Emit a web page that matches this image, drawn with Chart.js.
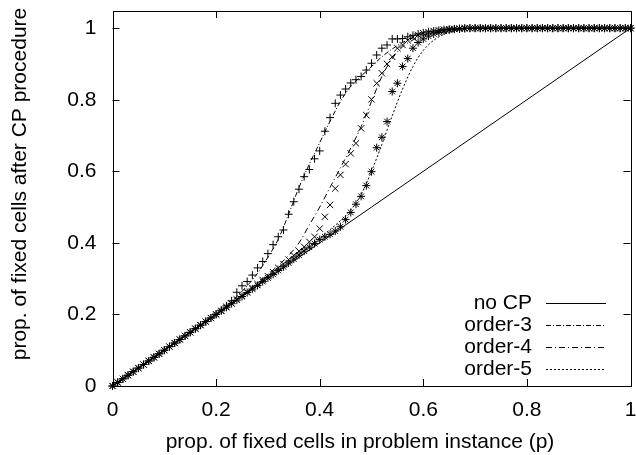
<!DOCTYPE html>
<html>
<head>
<meta charset="utf-8">
<script src="https://cdn.jsdelivr.net/npm/chart.js@4.4.1/dist/chart.umd.min.js"></script>
<style>
  html, body { margin: 0; padding: 0; background: #fff; }
  #grafica { display: block; }
</style>
</head>
<body>
<canvas id="grafica" width="636" height="455"></canvas>
<script>
//datos - puntos medidos (x cada 0.01)
var pX = [ 0, 0.01, 0.02, 0.03, 0.04, 0.05, 0.06, 0.07, 0.08, 0.09,
  0.1, 0.11, 0.12, 0.13, 0.14, 0.15, 0.16, 0.17, 0.18, 0.19,
  0.2, 0.21, 0.22, 0.23, 0.24, 0.25, 0.26, 0.27, 0.28, 0.29,
  0.3, 0.31, 0.32, 0.33, 0.34, 0.35, 0.36, 0.37, 0.38, 0.39,
  0.4, 0.41, 0.42, 0.43, 0.44, 0.45, 0.46, 0.47, 0.48, 0.49,
  0.5, 0.51, 0.52, 0.53, 0.54, 0.55, 0.56, 0.57, 0.58, 0.59,
  0.6, 0.61, 0.62, 0.63, 0.64, 0.65, 0.66, 0.67, 0.68, 0.69,
  0.7, 0.71, 0.72, 0.73, 0.74, 0.75, 0.76, 0.77, 0.78, 0.79,
  0.8, 0.81, 0.82, 0.83, 0.84, 0.85, 0.86, 0.87, 0.88, 0.89,
  0.9, 0.91, 0.92, 0.93, 0.94, 0.95, 0.96, 0.97, 0.98, 0.99, 1 ];

var ord3Pts = [ 0, 0.01, 0.02, 0.03, 0.04, 0.05, 0.06, 0.07, 0.08, 0.09,
  0.1, 0.11, 0.12, 0.13, 0.14, 0.15, 0.16, 0.17, 0.18, 0.19,
  0.201, 0.212, 0.224, 0.238, 0.262, 0.28, 0.292, 0.31, 0.33, 0.348,
  0.37, 0.395, 0.417, 0.436, 0.48, 0.515, 0.55, 0.585, 0.605, 0.635,
  0.657, 0.712, 0.75, 0.79, 0.813, 0.83, 0.847, 0.856, 0.865, 0.883,
  0.902, 0.925, 0.944, 0.953, 0.97, 0.97, 0.971, 0.976, 0.98, 0.984,
  0.987, 0.99, 0.992, 0.994, 0.996, 0.997, 0.998, 0.999, 1, 1,
  1, 1, 1, 1, 1, 1, 1, 1, 1, 1,
  1, 1, 1, 1, 1, 1, 1, 1, 1, 1,
  1, 1, 1, 1, 1, 1, 1, 1, 1, 1, 1 ];

var ord4Pts = [ 0, 0.01, 0.02, 0.03, 0.04, 0.05, 0.06, 0.07, 0.08, 0.09,
  0.1, 0.11, 0.12, 0.13, 0.14, 0.15, 0.16, 0.17, 0.18, 0.19,
  0.2, 0.21, 0.221, 0.231, 0.242, 0.252, 0.263, 0.274, 0.285, 0.296,
  0.307, 0.318, 0.33, 0.341, 0.353, 0.365, 0.377, 0.389, 0.403, 0.417,
  0.44, 0.473, 0.506, 0.552, 0.59, 0.62, 0.65, 0.678, 0.72, 0.757,
  0.801, 0.846, 0.874, 0.9, 0.92, 0.944, 0.953, 0.966, 0.975, 0.981,
  0.986, 0.989, 0.992, 0.994, 0.996, 0.997, 0.998, 0.999, 1, 1,
  1, 1, 1, 1, 1, 1, 1, 1, 1, 1,
  1, 1, 1, 1, 1, 1, 1, 1, 1, 1,
  1, 1, 1, 1, 1, 1, 1, 1, 1, 1, 1 ];

var ord5Pts = [ 0, 0.01, 0.02, 0.03, 0.04, 0.05, 0.06, 0.07, 0.08, 0.09,
  0.1, 0.11, 0.12, 0.13, 0.14, 0.15, 0.16, 0.17, 0.18, 0.19,
  0.2, 0.21, 0.22, 0.23, 0.24, 0.25, 0.261, 0.271, 0.281, 0.292,
  0.302, 0.312, 0.323, 0.333, 0.344, 0.355, 0.366, 0.377, 0.388, 0.398,
  0.409, 0.417, 0.424, 0.433, 0.445, 0.465, 0.485, 0.508, 0.53, 0.56,
  0.599, 0.666, 0.695, 0.739, 0.823, 0.846, 0.893, 0.915, 0.944, 0.96,
  0.97, 0.978, 0.984, 0.988, 0.992, 0.995, 0.997, 0.998, 0.999, 1,
  1, 1, 1, 1, 1, 1, 1, 1, 1, 1,
  1, 1, 1, 1, 1, 1, 1, 1, 1, 1,
  1, 1, 1, 1, 1, 1, 1, 1, 1, 1, 1 ];

//datos - curvas
var lX = [ 0, 0.1, 0.2, 0.22, 0.24, 0.26, 0.28, 0.3, 0.32, 0.34, 0.36, 0.38, 0.4,
  0.42, 0.44, 0.46, 0.48, 0.5, 0.52, 0.54, 0.56, 0.58, 0.6, 0.62, 0.64, 0.66,
  0.68, 0.7, 0.8, 0.9, 1 ];
var ord3Line = [ 0, 0.1, 0.202, 0.224, 0.25, 0.28, 0.315, 0.36, 0.41, 0.48, 0.555, 0.62, 0.68,
  0.74, 0.795, 0.838, 0.866, 0.893, 0.92, 0.942, 0.96, 0.974, 0.985, 0.991, 0.995, 0.998,
  0.999, 1, 1, 1, 1 ];
var ord4Line = [ 0, 0.1, 0.2, 0.221, 0.243, 0.265, 0.288, 0.312, 0.337, 0.365, 0.4, 0.45, 0.5,
  0.555, 0.61, 0.665, 0.725, 0.795, 0.865, 0.915, 0.948, 0.967, 0.98, 0.988, 0.993, 0.997,
  0.999, 1, 1, 1, 1 ];
var ord5Line = [ 0, 0.1, 0.2, 0.22, 0.241, 0.261, 0.282, 0.303, 0.324, 0.346, 0.368, 0.39, 0.413,
  0.437, 0.462, 0.492, 0.535, 0.6, 0.675, 0.755, 0.83, 0.893, 0.938, 0.966, 0.983, 0.992,
  0.997, 1, 1, 1, 1 ];
var noCpX = [ 0, 1 ];
var noCpY = [ 0, 1 ];

//ejes
var xTicks = [ 0, 0.2, 0.4, 0.6, 0.8, 1 ];
var yTicks = [ 0, 0.2, 0.4, 0.6, 0.8, 1 ];
var xTitulo = 'prop. of fixed cells in problem instance (p)';
var yTitulo = 'prop. of fixed cells after CP procedure';

var fuente = "'Liberation Sans', Arial, Helvetica, sans-serif";

function pares( xs, ys )
{
  return xs.map( ( x, i ) => ( { x: x, y: ys[ i ] } ) );
}

function puntos( ys, estilo, radio )
{
  return {
    label: '',
    data: pares( pX, ys ),
    showLine: false,
    pointStyle: estilo,
    pointRadius: radio,
    pointBorderWidth: 1,
    pointBorderColor: '#000',
    pointBackgroundColor: '#000',
    clip: false,
    enLeyenda: false,
  };
}

function curva( nombre, xs, ys, guiones )
{
  return {
    label: nombre,
    data: pares( xs, ys ),
    showLine: true,
    borderColor: '#000',
    borderWidth: 1,
    borderDash: guiones,
    pointRadius: 0,
    cubicInterpolationMode: 'monotone',
    enLeyenda: true,
  };
}

//caja, marcas hacia adentro, titulos y leyenda
var marco =
{
  id: 'marco',
  afterDraw( chart )
  {
    var ctx = chart.ctx;
    var a = chart.chartArea;
    var sx = chart.scales.x;
    var sy = chart.scales.y;
    var largo = 7;

    ctx.save( );
    ctx.strokeStyle = '#000';
    ctx.lineWidth = 1;
    ctx.strokeRect( Math.round( a.left ) + 0.5, Math.round( a.top ) + 0.5,
      Math.round( a.right - a.left ), Math.round( a.bottom - a.top ) );

    ctx.beginPath( );
    xTicks.forEach( v =>
    {
      var px = Math.round( sx.getPixelForValue( v ) ) + 0.5;
      ctx.moveTo( px, a.bottom );
      ctx.lineTo( px, a.bottom - largo );
      ctx.moveTo( px, a.top );
      ctx.lineTo( px, a.top + largo );
    });
    yTicks.forEach( v =>
    {
      var py = Math.round( sy.getPixelForValue( v ) ) + 0.5;
      ctx.moveTo( a.left, py );
      ctx.lineTo( a.left + largo, py );
      ctx.moveTo( a.right, py );
      ctx.lineTo( a.right - largo, py );
    });
    ctx.stroke( );

    //titulos
    ctx.fillStyle = '#000';
    ctx.font = '21px ' + fuente;
    ctx.textAlign = 'center';
    ctx.textBaseline = 'middle';
    ctx.fillText( xTitulo, 360, 442 );

    ctx.save( );
    ctx.translate( 20, 184 );
    ctx.rotate( -Math.PI / 2 );
    ctx.fillText( yTitulo, 0, 0 );
    ctx.restore( );

    //leyenda
    var fila = 303;
    chart.data.datasets.forEach( ds =>
    {
      if ( !ds.enLeyenda ) return;
      ctx.textAlign = 'right';
      ctx.fillText( ds.label, 532, fila );
      ctx.setLineDash( ds.borderDash || [ ] );
      ctx.beginPath( );
      ctx.moveTo( 546, fila + 0.5 );
      ctx.lineTo( 606, fila + 0.5 );
      ctx.stroke( );
      ctx.setLineDash( [ ] );
      fila += 22;
    });

    ctx.restore( );
  }
};

var grafica = new Chart( document.getElementById( 'grafica' ),
{
  type: 'scatter',
  data:
  {
    datasets:
    [
      curva( 'no CP', noCpX, noCpY, [ ] ),
      curva( 'order-3', lX, ord3Line, [ 5, 2, 1, 2 ] ),
      curva( 'order-4', lX, ord4Line, [ 6, 3, 1, 3 ] ),
      curva( 'order-5', lX, ord5Line, [ 2, 2 ] ),
      puntos( ord3Pts, 'cross', 4 ),
      puntos( ord4Pts, 'crossRot', 4.5 ),
      puntos( ord5Pts, 'star', 4 ),
    ]
  },
  options:
  {
    responsive: false,
    animation: false,
    devicePixelRatio: 1,
    layout: { padding: { top: 11, right: 3, left: 0, bottom: 0 } },
    plugins:
    {
      legend: { display: false },
      tooltip: { enabled: false },
    },
    scales:
    {
      x:
      {
        type: 'linear',
        min: 0,
        max: 1,
        grid: { display: false, drawTicks: false },
        border: { display: false },
        afterBuildTicks: s => { s.ticks = xTicks.map( v => ( { value: v } ) ); },
        afterFit: s => { s.height = 69; s.paddingLeft = 0; s.paddingRight = 0; },
        ticks:
        {
          color: '#000',
          padding: 12,
          maxRotation: 0,
          font: { family: fuente, size: 21 },
          callback: v => String( v ),
        },
      },
      y:
      {
        type: 'linear',
        min: 0,
        max: 1.048,
        grid: { display: false, drawTicks: false },
        border: { display: false },
        afterBuildTicks: s => { s.ticks = yTicks.map( v => ( { value: v } ) ); },
        afterFit: s => { s.width = 112.5; s.paddingTop = 0; s.paddingBottom = 0; },
        ticks:
        {
          color: '#000',
          padding: 16,
          font: { family: fuente, size: 21 },
          callback: v => String( v ),
        },
      },
    },
  },
  plugins: [ marco ],
});
</script>
</body>
</html>
